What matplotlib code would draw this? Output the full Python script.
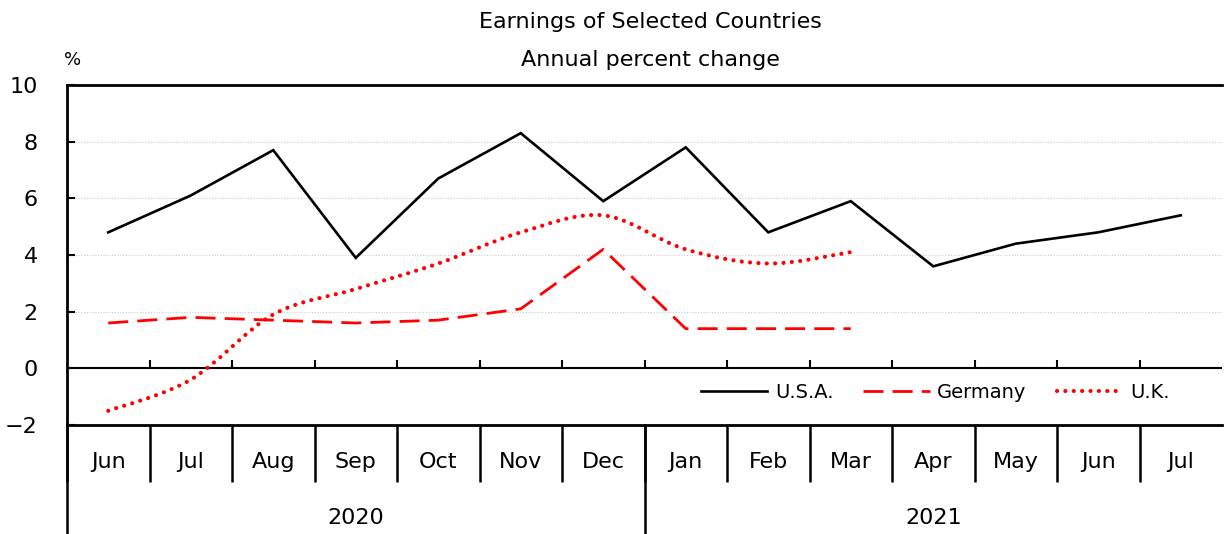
import matplotlib
matplotlib.use("Agg")
import matplotlib.pyplot as plt
import numpy as np
from matplotlib.path import Path
from matplotlib.patches import PathPatch
from matplotlib.lines import Line2D
import matplotlib.transforms as mtransforms

months = ["Jun", "Jul", "Aug", "Sep", "Oct", "Nov", "Dec",
          "Jan", "Feb", "Mar", "Apr", "May", "Jun", "Jul"]
years = ["2020", "2021"]
year_spans = [(0, 7), (7, 14)]
usa = [4.8, 6.1, 7.7, 3.9, 6.7, 8.3, 5.9, 7.8, 4.8, 5.9, 3.6, 4.4, 4.8, 5.4]
germany = [1.6, 1.8, 1.7, 1.6, 1.7, 2.1, 4.2, 1.4, 1.4, 1.4]
uk = [-1.5, -0.4, 1.9, 2.8, 3.7, 4.8, 5.4, 4.2, 3.7, 4.1]
yticks = [-2, 0, 2, 4, 6, 8, 10]

plt.rcParams['font.family'] = ['DejaVu Sans']

fig = plt.figure(figsize=(12.24, 5.34), dpi=100)
ax = fig.add_axes([67/1224, 109/534, 1155/1224, 340/534])

x = np.arange(len(months))
ax.set_xlim(-0.5, len(months) - 0.5)
ax.set_ylim(-2, 10)

# gridlines
for yv in yticks[2:-1]:
    ax.axhline(yv, color='#cccccc', lw=0.8, ls=(0, (1, 1.5)), zorder=0)

ax.plot(x, usa, color='black', lw=1.9, solid_joinstyle='miter', zorder=3)
ax.plot(x[:len(germany)], germany, color='red', lw=2.0,
        ls=(0, (7.2, 3.3)), zorder=3)

# smoothed UK line (Catmull-Rom rendered as Bezier path)
xu = x[:len(uk)].astype(float)
yu = np.array(uk, dtype=float)
pts = np.column_stack([xu, yu])
verts = [pts[0]]
codes = [Path.MOVETO]
n = len(pts)
for i in range(n - 1):
    p0 = pts[i - 1] if i > 0 else pts[i]
    p1 = pts[i]
    p2 = pts[i + 1]
    p3 = pts[i + 2] if i + 2 < n else pts[i + 1]
    c1 = p1 + (p2 - p0) / 6.0
    c2 = p2 - (p3 - p1) / 6.0
    verts += [c1, c2, p2]
    codes += [Path.CURVE4] * 3
ukpatch = PathPatch(Path(verts, codes), fill=False, edgecolor='red', lw=3.0,
                    ls=(0, (0.01, 2.0)), capstyle='round', zorder=3)
ax.add_patch(ukpatch)

# zero line with small upward ticks at category boundaries
ax.axhline(0, color='black', lw=1.5, zorder=2)
bounds = np.arange(len(months) + 1) - 0.5
ax.vlines(bounds[1:-1], 0, 0.28, color='black', lw=1.5, zorder=2)

# spines
ax.spines['right'].set_visible(False)
ax.spines['left'].set_linewidth(2.0)
ax.spines['top'].set_linewidth(2.0)
ax.spines['bottom'].set_linewidth(2.0)

ax.set_yticks(yticks)
ax.set_yticklabels([("\u2212" + str(-v)) if v < 0 else str(v) for v in yticks])
ax.tick_params(axis='y', direction='in', length=6, width=1.5, pad=21,
               labelsize=16)

# category axis: month separators as ticks
ax.set_xticks(bounds[:-1])
ax.set_xticklabels([])
ax.tick_params(axis='x', direction='out', length=41, width=1.8)
trans = mtransforms.blended_transform_factory(ax.transData, ax.transAxes)
for i, m in enumerate(months):
    ax.text(i, -0.11, m, transform=trans, ha='center', va='center',
            fontsize=16)
for (a, b), yr in zip(year_spans, years):
    ax.text((a + b - 1) / 2, -0.275, yr, transform=trans, ha='center',
            va='center', fontsize=16)
for b in [0, 7]:
    ax.plot([b - 0.5, b - 0.5], [0, -0.33], transform=trans, color='black',
            lw=1.8, clip_on=False)

# titles
fig.text(0.531, 0.958, "Earnings of Selected Countries", ha='center',
         va='center', fontsize=16)
fig.text(0.531, 0.887, "Annual percent change", ha='center', va='center',
         fontsize=16)
fig.text(73/1224, 0.887, "%", ha='center', va='center', fontsize=13)

handles = [Line2D([], [], color='black', lw=1.9),
           Line2D([], [], color='red', lw=2.0, ls=(0, (7.2, 3.3))),
           Line2D([], [], color='red', lw=3.0, ls=(0, (0.01, 2.0)),
                  dash_capstyle='round')]
ax.legend(handles, ["U.S.A.", "Germany", "U.K."], ncol=3, frameon=False,
          fontsize=14, handlelength=3.4, handletextpad=0.4, columnspacing=1.55,
          loc='center', bbox_to_anchor=(0.752, 0.097),
          bbox_transform=ax.transAxes)

fig.savefig("out.png", dpi=100)
